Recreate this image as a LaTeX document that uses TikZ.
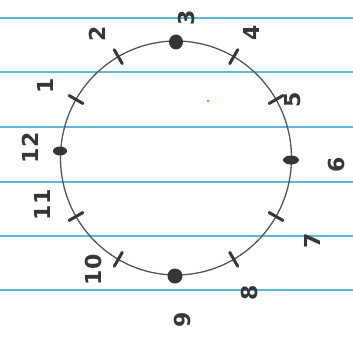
\documentclass[tikz,border=0pt]{standalone}
\usepackage{fontspec}
\setmainfont{DejaVu Sans}
\definecolor{ruleblue}{HTML}{5DBBD8}
\definecolor{facegray}{HTML}{555555}
\definecolor{ink}{HTML}{363636}
\begin{document}
\begin{tikzpicture}[x=1pt,y=-1pt,
  rule/.style={draw=ruleblue,line width=2pt},
  face/.style={draw=facegray,line width=1.3pt},
  tickmark/.style={draw=ink,line width=3pt,line cap=round},
  dotmark/.style={fill=ink,draw=none},
  num/.style={text=ink,font=\fontsize{22}{22}\selectfont\bfseries,rotate=90,inner sep=0pt}]
\fill[white] (0,0) rectangle (353,337);
\useasboundingbox (0,0) rectangle (353,337);
% ruled lines
\foreach \yy in {18.5,72,127,182,235.5,289.5}
  \draw[rule] (0,\yy) -- (353,\yy);
% clock face
\coordinate (c) at (176,158);
\draw[face] (c) ellipse [x radius=115.5, y radius=117];
% tick marks
\foreach \k in {1,2,4,5,7,8,10,11} {
  \pgfmathsetmacro\a{180-30*\k}
  \coordinate (ti\k) at ({176+(115.5-8)*cos(\a)},{158-(117-8)*sin(\a)});
  \coordinate (to\k) at ({176+(115.5+8)*cos(\a)},{158-(117+8)*sin(\a)});
  \draw[tickmark] (ti\k) -- (to\k);
}
% dots at 3, 6, 9, 12
\fill[dotmark] (176,42) ellipse [x radius=7, y radius=7.5];
\fill[dotmark] (175,276) ellipse [x radius=7.5, y radius=7.5];
\fill[dotmark] (291,160) ellipse [x radius=8, y radius=4.5];
\fill[dotmark] (60,151) ellipse [x radius=7, y radius=4.5];
% stray paper mark
\fill[orange!70!brown] (208,101) circle (1.3);
% numbers
\node[num] (n1) at (45,86) {1};
\node[num] (n2) at (97,34) {2};
\node[num] (n3) at (186,18) {3};
\node[num] (n4) at (251,33) {4};
\node[num] (n5) at (293,100) {5};
\node[num] (n6) at (336,165) {6};
\node[num] (n7) at (312,241) {7};
\node[num] (n8) at (249,293) {8};
\node[num] (n9) at (182,320) {9};
\node[num] (n10) at (93,270) {10};
\node[num] (n11) at (42,205) {11};
\node[num] (n12) at (30,148) {12};
\end{tikzpicture}
\end{document}
